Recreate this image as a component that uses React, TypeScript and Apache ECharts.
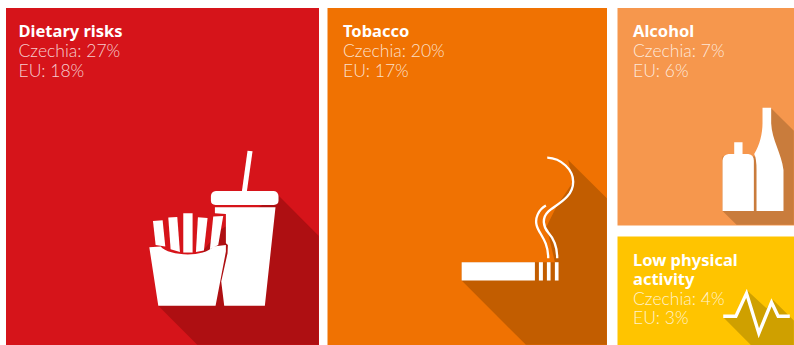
import React, { useEffect, useRef } from "react";
import * as echarts from "echarts";

// Share of deaths attributed to each behavioural risk factor
const riskTitles = [["Dietary risks"], ["Tobacco"], ["Alcohol"], ["Low physical", "activity"]];
const czechiaShare = [27, 20, 7, 4];
const euShare = [18, 17, 6, 3];

const TITLE_FONT = "'Noto Sans', 'Open Sans', sans-serif";
const BODY_FONT = "Lato, 'Open Sans', sans-serif";

// Tile geometry, text anchors and colours, one entry per risk
const tiles = [
  { x: 6, y: 8, w: 313, h: 337, fill: "#D6141A", tx: 18.5, ty: 30.5 },
  { x: 327.5, y: 8, w: 279.5, h: 337, fill: "#F07202", tx: 343, ty: 30.5 },
  { x: 617.5, y: 8, w: 176.5, h: 217.5, fill: "#F6974D", tx: 633, ty: 30.5 },
  { x: 617.5, y: 236.5, w: 176.5, h: 108.5, fill: "#FFC400", tx: 633, ty: 259 },
];

// Icons are authored on a 3x grid, relative to the origin given in each entry
const icons = [
  {
    ox: 120,
    oy: 130,
    shadow: "#AE0F12",
    shadowPath: "M115 528 L232 645 L597 645 L597 318 L476 197 L300 300 Z",
    fill: [
      "M383 62 L398 64 L381 185 L366 185 Z",
      "M288 183 L462 183 Q476 185 476 200 L476 212 Q476 225 462 225 L287 225 Q273 225 273 212 L273 198 Q274 184 288 183 Z",
      "M285 232 L467 232 L435 528 L313 528 L304 455 L323 370 L324 345 L318 340 L318 252 L285 250 Z",
      "M88 352 L122 350 C145 378 250 385 280 350 L318 345 L318 365 L287 528 L115 528 Z",
      "M99 273 L128 271 L136 350 L107 345 Z",
      "M145 263 L172 261 L180 366 L152 358 Z",
      "M190 250 L218 250 L218 368 L190 368 Z",
      "M234 262 L263 264 L252 362 L228 366 Z",
      "M280 260 L310 258 L295 345 L270 358 Z",
    ],
    stroke: [] as string[],
    strokeWidth: 0,
  },
  {
    ox: 440,
    oy: 140,
    shadow: "#C25D00",
    shadowPath: "M65 422 L258 615 L501 615 L501 175 L385 60 L400 125 L350 200 L320 260 L345 367 L65 367 Z",
    fill: [
      "M65 367 L285 367 L285 422 L65 422 Z",
      "M297 367 L309 367 L309 422 L297 422 Z",
      "M321 367 L332 367 L332 422 L321 422 Z",
      "M345 367 L356 367 L356 422 L345 422 Z",
    ],
    stroke: [
      "M322 53 C365 55 400 90 400 125 C400 175 345 195 325 215 C305 235 310 260 325 278 C345 300 352 325 352 355",
      "M318 197 C295 210 285 235 290 255 C295 280 325 300 325 355",
    ],
    strokeWidth: 7,
  },
  {
    ox: 610,
    oy: 90,
    shadow: "#C97C3C",
    shadowPath: "M338 363 L380 405 L552 405 L552 122 L484 55 L440 200 L338 200 Z",
    fill: [
      "M373 157 L398 157 L398 192 L415 192 Q432 194 432 212 L432 363 L338 363 L338 212 Q339 194 356 192 L373 192 Z",
      "M458 53 L484 53 L484 100 C486 150 515 190 521 240 L521 363 L440 363 L440 240 Q440 205 433 192 C450 165 458 130 458 100 Z",
    ],
    stroke: [] as string[],
    strokeWidth: 0,
  },
  {
    ox: 610,
    oy: 230,
    shadow: "#CFA000",
    shadowPath: "M340 262 L423 345 L552 345 L552 272 L490 210 L470 235 L412 182 L375 255 Z",
    fill: [] as string[],
    stroke: ["M340 259 L378 259 L410 190 L447 310 L485 217 L505 259 L540 259"],
    strokeWidth: 10,
  },
];

function renderTile(_params: any, api: any) {
  const i = api.value(0);
  const tile = tiles[i];
  const icon = icons[i];
  const titleLines = riskTitles[i];
  const titleStep = 19;
  const lineStep = 19.5;

  const texts = [
    {
      // A wrapped title stays one text block with its own line height
      type: "text",
      x: tile.tx,
      y: tile.ty - titleStep / 2,
      style: {
        text: titleLines.join("\n"),
        fill: "#FFFFFF",
        font: `bold 16.5px ${TITLE_FONT}`,
        lineHeight: titleStep,
        textVerticalAlign: "top",
      },
    },
    ...[`Czechia: ${api.value(1)}%`, `EU: ${api.value(2)}%`].map((line, k) => ({
      type: "text",
      x: tile.tx,
      y: tile.ty + (titleLines.length - 1) * titleStep + (k + 1) * lineStep + 0.5,
      style: {
        text: line,
        fill: "rgba(255,255,255,0.8)",
        font: `300 17.5px ${BODY_FONT}`,
        textVerticalAlign: "middle",
      },
    })),
  ];

  const scale = { x: icon.ox, y: icon.oy, scaleX: 1 / 3, scaleY: 1 / 3 };

  return {
    type: "group",
    children: [
      {
        type: "rect",
        shape: { x: tile.x, y: tile.y, width: tile.w, height: tile.h },
        style: { fill: tile.fill },
      },
      {
        type: "group",
        ...scale,
        children: [
          { type: "path", shape: { pathData: icon.shadowPath }, style: { fill: icon.shadow } },
          ...icon.fill.map((d) => ({
            type: "path",
            shape: { pathData: d },
            style: { fill: "#FFFFFF" },
          })),
          ...icon.stroke.map((d) => ({
            type: "path",
            shape: { pathData: d },
            style: { fill: "none", stroke: "#FFFFFF", lineWidth: icon.strokeWidth },
          })),
        ],
      },
      ...texts,
    ],
  };
}

export default function App() {
  const ref = useRef<HTMLDivElement>(null);

  useEffect(() => {
    document.body.style.margin = "0";
    const chart = echarts.init(ref.current!, undefined, { renderer: "svg" });
    chart.setOption({
      animation: false,
      backgroundColor: "#FFFFFF",
      series: [
        {
          type: "custom",
          coordinateSystem: "none",
          renderItem: renderTile,
          data: czechiaShare.map((value, i) => [i, value, euShare[i]]),
          silent: true,
        },
      ],
    });
    return () => chart.dispose();
  }, []);

  return <div ref={ref} style={{ width: 794, height: 345 }} />;
}
